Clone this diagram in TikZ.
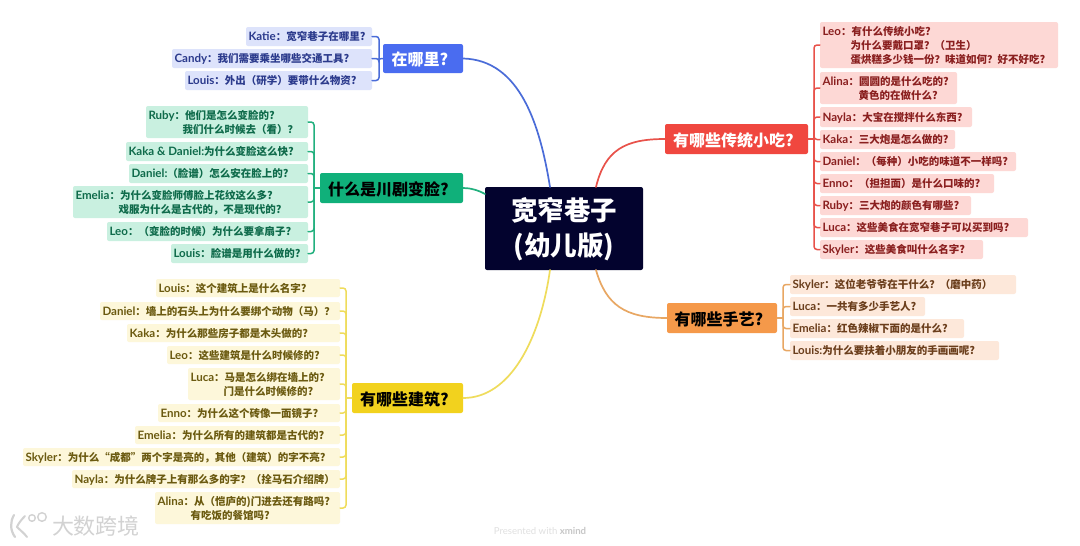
\documentclass[tikz,border=0pt]{standalone}
\usepackage{fontspec}
\setmainfont{Noto Sans CJK SC}
\newfontfamily\lat[Scale=1.1]{Lato}
\newfontfamily\latplain{Lato}
\newcommand{\nm}[1]{{\lat\bfseries #1}}
\newcommand{\dn}[2]{\raisebox{-#1}[\height][\depth]{#2}}
\usetikzlibrary{calc}
\definecolor{cHub}{HTML}{03032E}
\definecolor{cBlue}{HTML}{4A6CF0}\definecolor{lBlue}{HTML}{DDE3FB}\definecolor{tBlue}{HTML}{2B3A8C}
\definecolor{cGreen}{HTML}{10B07A}\definecolor{lGreen}{HTML}{C9F0E0}\definecolor{tGreen}{HTML}{0F6B4B}
\definecolor{cYellow}{HTML}{F2D21E}\definecolor{lYellow}{HTML}{FDF7DA}\definecolor{tYellow}{HTML}{6B5A10}
\definecolor{cRed}{HTML}{F0473F}\definecolor{lRed}{HTML}{FDD8D5}\definecolor{tRed}{HTML}{8A1F1F}
\definecolor{cOrange}{HTML}{F5994A}\definecolor{lOrange}{HTML}{FDE8DA}\definecolor{tOrange}{HTML}{6B3E1C}
\definecolor{lnYellow}{HTML}{EFDC5C}\definecolor{lnOrange}{HTML}{E8A763}
\definecolor{lnBlue}{HTML}{4A6CD8}\definecolor{lnGreen}{HTML}{22B07E}\definecolor{lnRed}{HTML}{E8524A}
\definecolor{wm}{HTML}{D2D2D2}
% \bx{name}{x1}{y1}{x2}{y2}{style}{text}
\newcommand{\bx}[7]{%
  \pgfmathsetmacro{\cxx}{(#2+#4)/2}\pgfmathsetmacro{\cyy}{(#3+#5)/2}%
  \pgfmathsetmacro{\wdd}{#4-#2}\pgfmathsetmacro{\htt}{#5-#3}%
  \node[#6,minimum width=\wdd pt,minimum height=\htt pt] (#1) at (\cxx,\cyy)
    {\makebox[\wdd pt][l]{\hspace{2.5pt}\dn{1.5pt}{\begin{tabular}{@{}l@{}}#7\end{tabular}}}};}
\newcommand{\tb}[6]{%
  \pgfmathsetmacro{\cxx}{(#2+#4)/2}\pgfmathsetmacro{\cyy}{(#3+#5)/2}%
  \pgfmathsetmacro{\wdd}{#4-#2}\pgfmathsetmacro{\htt}{#5-#3}%
  \node[topic,fill=#6,minimum width=\wdd pt,minimum height=\htt pt] (#1) at (\cxx,\cyy)}
\newcommand{\tx}[1]{\dn{1pt}{#1}\rule{6pt}{0pt}}
\tikzset{
  leaf/.style={rectangle,rounded corners=2pt,inner sep=0pt,font=\fontsize{10.5}{14}\selectfont\bfseries},
  bleaf/.style={leaf,fill=lBlue,text=tBlue},
  gleaf/.style={leaf,fill=lGreen,text=tGreen},
  yleaf/.style={leaf,fill=lYellow,text=tYellow},
  rleaf/.style={leaf,fill=lRed,text=tRed},
  oleaf/.style={leaf,fill=lOrange,text=tOrange},
  topic/.style={rectangle,rounded corners=2pt,inner sep=0pt,font=\fontsize{16}{20}\selectfont\bfseries},
  branch/.style={line width=1.7pt,line cap=round},
  tie/.style={line width=1.5pt,rounded corners=3pt,line cap=round},
}
\begin{document}
\begin{tikzpicture}[x=1pt,y=-1pt]
\useasboundingbox (0,0) rectangle (1080,546);
\fill[white] (0,0) rectangle (1080,546);
% hub
\node[rectangle,rounded corners=2pt,fill=cHub,text=white,inner sep=0pt,minimum width=158pt,minimum height=83pt,font=\fontsize{26.5}{35}\selectfont\bfseries] (hub) at (564,228.5) {\dn{2.5pt}{\begin{tabular}{@{}c@{}}宽窄巷子\\(幼儿版)\end{tabular}}};
\coordinate (hubBlue) at (550,187);
\coordinate (hubRed) at (596,187);
\coordinate (hubOrange) at (596,270);
\coordinate (hubYellow) at (550,270);
\coordinate (hubGreen) at (485,194);
% topics
\tb{blue}{383}{44}{463}{73}{cBlue}[text=white]{\tx{在哪里?}};
\tb{green}{320}{173}{463}{203}{cGreen}[text=black]{\tx{什么是川剧变脸?}};
\tb{yellow}{352}{383}{463}{413}{cYellow}[text=black]{\tx{有哪些建筑?}};
\tb{red}{665}{124}{808}{154}{cRed}[text=white]{\tx{有哪些传统小吃?}};
\tb{orange}{667}{303}{777}{333}{cOrange}[text=black]{\tx{有哪些手艺?}};
% branches
\draw[branch,lnBlue] (blue.east) .. controls (520,60) and (540,125) .. (hubBlue);
\draw[branch,lnGreen] (green.east) .. controls (470,188) and (478,190) .. (hubGreen);
\draw[branch,lnYellow] (yellow.east) .. controls (510,398) and (540,340) .. (hubYellow);
\draw[branch,lnRed] (red.west) .. controls (625,139) and (605,150) .. (hubRed);
\draw[branch,lnOrange] (orange.west) .. controls (625,318) and (606,305) .. (hubOrange);
% blue leaves
\bx{b1}{246}{27}{372}{46}{bleaf}{\nm{Katie}：宽窄巷子在哪里?}
\bx{b2}{172}{49}{372}{68}{bleaf}{\nm{Candy}：我们需要乘坐哪些交通工具?}
\bx{b3}{185}{71}{372}{90}{bleaf}{\nm{Louis}：外出（研学）要带什么物资?}
% green leaves
\bx{g1}{146}{106}{308}{138}{gleaf}{\nm{Ruby}：他们是怎么变脸的?\\\hspace{34pt}我们什么时候去（看）？}
\bx{g2}{126}{142}{308}{161}{gleaf}{\nm{Kaka \& Daniel:}为什么变脸这么快?}
\bx{g3}{129}{164}{308}{183}{gleaf}{\nm{Daniel:}（脸谱）怎么安在脸上的?}
\bx{g4}{73}{186}{308}{218}{gleaf}{\nm{Emelia}：为什么变脸师傅脸上花纹这么多?\\\hspace{43pt}戏服为什么是古代的，不是现代的?}
\bx{g5}{107}{222}{308}{241}{gleaf}{\nm{Leo}：（变脸的时候）为什么要拿扇子?}
\bx{g6}{171}{244}{308}{263}{gleaf}{\nm{Louis}：脸谱是用什么做的?}
% yellow leaves
\bx{y1}{156}{279}{340}{297}{yleaf}{\nm{Louis}：这个建筑上是什么名字?}
\bx{y2}{100}{302}{340}{320}{yleaf}{\nm{Daniel}：墙上的石头上为什么要绑个动物（马）？}
\bx{y3}{127}{324}{340}{342}{yleaf}{\nm{Kaka}：为什么那些房子都是木头做的?}
\bx{y4}{167}{346}{340}{364}{yleaf}{\nm{Leo}：这些建筑是什么时候修的?}
\bx{y5}{188}{368}{340}{400}{yleaf}{\nm{Luca}：马是怎么绑在墙上的?\\\hspace{33pt}门是什么时候修的?}
\bx{y6}{158}{404}{340}{422}{yleaf}{\nm{Enno}：为什么这个砖像一面镜子?}
\bx{y7}{135}{426}{340}{444}{yleaf}{\nm{Emelia}：为什么所有的建筑都是古代的?}
\bx{y8}{23}{448}{340}{466}{yleaf}{\nm{Skyler}：为什么“成都”两个字是亮的，其他（建筑）的字不亮?}
\bx{y9}{72}{470}{340}{488}{yleaf}{\nm{Nayla}：为什么牌子上有那么多的字？（拴马石介绍牌）}
\bx{y10}{155}{492}{340}{524}{yleaf}{\nm{Alina}：从（恺庐的)门进去还有路吗?\\\hspace{33pt}有吃饭的餐馆吗?}
% red leaves
\bx{r1}{820}{22}{1058}{68}{rleaf}{\nm{Leo}：有什么传统小吃?\\\hspace{28pt}为什么要戴口罩？（卫生）\\\hspace{28pt}蛋烘糕多少钱一份？味道如何？好不好吃?}
\bx{r2}{820}{72}{957}{104}{rleaf}{\nm{Alina}：圆圆的是什么吃的?\\\hspace{36pt}黄色的在做什么?}
\bx{r3}{820}{107}{972}{127}{rleaf}{\nm{Nayla}：大宝在搅拌什么东西?}
\bx{r4}{820}{130}{955}{149}{rleaf}{\nm{Kaka}：三大炮是怎么做的?}
\bx{r5}{820}{152}{1016}{171}{rleaf}{\nm{Daniel}：（每种）小吃的味道不一样吗?}
\bx{r6}{820}{174}{994}{193}{rleaf}{\nm{Enno}：（担担面）是什么口味的?}
\bx{r7}{820}{196}{971}{215}{rleaf}{\nm{Ruby}：三大炮的颜色有哪些?}
\bx{r8}{820}{218}{1028}{237}{rleaf}{\nm{Luca}：这些美食在宽窄巷子可以买到吗?}
\bx{r9}{820}{240}{983}{259}{rleaf}{\nm{Skyler}：这些美食叫什么名字?}
% orange leaves
\bx{o1}{790}{275}{1016}{294}{oleaf}{\nm{Skyler}：这位老爷爷在干什么？（磨中药）}
\bx{o2}{790}{297}{925}{316}{oleaf}{\nm{Luca}：一共有多少手艺人?}
\bx{o3}{790}{319}{964}{338}{oleaf}{\nm{Emelia}：红色辣椒下面的是什么?}
\bx{o4}{790}{341}{999}{360}{oleaf}{\nm{Louis:}为什么要扶着小朋友的手画画呢?}
% ties
\coordinate (jb) at (379,59);
\coordinate (jg) at (314,188);
\coordinate (jy) at (346,398);
\coordinate (jr) at (814,139);
\coordinate (jo) at (783,318);
\draw[tie,lnBlue] (blue.west) -- (jb);
\foreach \c in {b1,b2,b3} \draw[tie,lnBlue] (jb) |- (\c.east);
\draw[tie,lnGreen] (green.west) -- (jg);
\foreach \c in {g1,g2,g3,g4,g5,g6} \draw[tie,lnGreen] (jg) |- (\c.east);
\draw[tie,lnYellow] (yellow.west) -- (jy);
\foreach \c in {y1,y2,y3,y4,y5,y6,y7,y8,y9,y10} \draw[tie,lnYellow] (jy) |- (\c.east);
\draw[tie,lnRed] (red.east) -- (jr);
\foreach \c in {r1,r2,r3,r4,r5,r6,r7,r8,r9} \draw[tie,lnRed] (jr) |- (\c.west);
\draw[tie,lnOrange] (orange.east) -- (jo);
\foreach \c in {o1,o2,o3,o4} \draw[tie,lnOrange] (jo) |- (\c.west);
% footer
\node[text=black!12,font=\fontsize{9.6}{11}\selectfont\latplain,inner sep=0pt] (xm) at (540,531) {Presented with {\bfseries\color{black!22}xmind}};
\node[text=wm,font=\fontsize{22}{24}\selectfont,inner sep=0pt] (wmk) at (96,526) {大数跨境};
\draw[wm,line width=2.2pt,line cap=round] (14,515) .. controls (10,522) and (10,530) .. (15,537);
\draw[wm,line width=2pt,line cap=round] (25,516) .. controls (21,520) and (18,524) .. (17,527) .. controls (20,530) and (24,533) .. (27,537);
\draw[wm,line width=1.4pt] (32,518) circle (3.3pt) (42,517) circle (4.3pt);
\end{tikzpicture}
\end{document}
